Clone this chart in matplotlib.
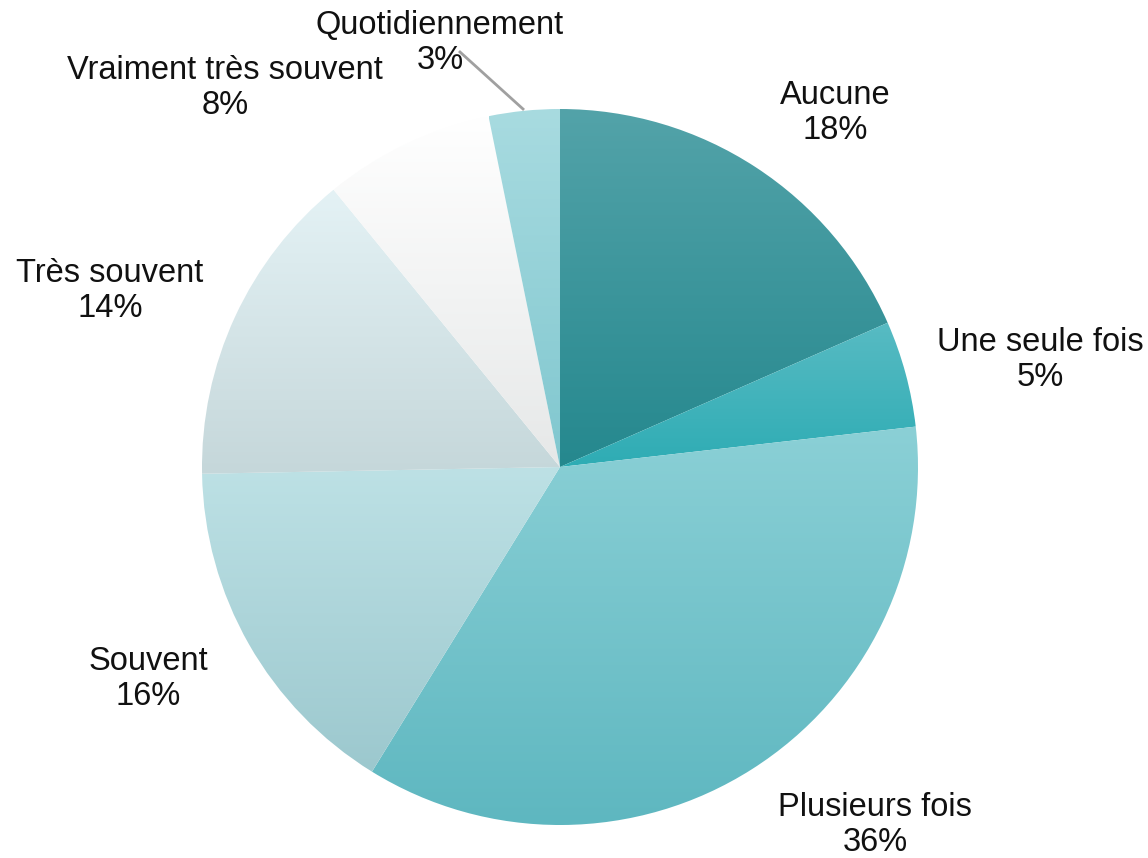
import numpy as np
import matplotlib
matplotlib.use("Agg")
import matplotlib.pyplot as plt
from matplotlib.colors import to_rgb

categories = ["Aucune", "Une seule fois", "Plusieurs fois", "Souvent",
              "Très souvent", "Vraiment très souvent", "Quotidiennement"]
# slice shares
values = [18.4, 4.8, 35.6, 15.9, 14.4, 7.7, 3.2]
# percentages printed on the chart
pct_labels = ["18%", "5%", "36%", "16%", "14%", "8%", "3%"]
top_colors = ["#53a3a9", "#58bbc3", "#8bd0d6", "#bde1e5", "#e4f2f5", "#ffffff", "#a8dbe0"]
bottom_colors = ["#25888e", "#2eacb4", "#5eb7c0", "#9cc8ce", "#c5d7da", "#e6e8e8", "#80c7cf"]

W, H = 1148, 858
fig = plt.figure(figsize=(W / 100, H / 100), dpi=100)
ax = fig.add_axes([0, 0, 1, 1])

cx, cy, R = 560, H - 467, 358
wedges, _ = ax.pie(values, startangle=90, counterclock=False, center=(cx, cy),
                   radius=R, wedgeprops=dict(linewidth=0), frame=True)
ax.set_xlim(0, W)
ax.set_ylim(0, H)
ax.set_aspect("equal")
ax.axis("off")

for w, ct, cb in zip(wedges, top_colors, bottom_colors):
    w.set_facecolor("none")
    t = np.linspace(np.radians(w.theta1), np.radians(w.theta2), 200)
    xs = np.concatenate([[w.center[0]], w.center[0] + w.r * np.cos(t)])
    ys = np.concatenate([[w.center[1]], w.center[1] + w.r * np.sin(t)])
    x0, x1, y0, y1 = xs.min(), xs.max(), ys.min(), ys.max()
    a, b = np.array(to_rgb(ct)), np.array(to_rgb(cb))
    f = np.linspace(0, 1, 256)[:, None]
    grad = (a * (1 - f) + b * f)[:, None, :]
    im = ax.imshow(grad, extent=(x0, x1, y0, y1), origin="upper",
                   aspect="auto", interpolation="bilinear", zorder=1)
    im.set_clip_path(w)

labels_pos = [(835, 113), (1040, 360), (875, 825), (148, 679),
              (110, 291), (225, 88), (440, 43)]
for cat, p, (lx, ly) in zip(categories, pct_labels, labels_pos):
    ax.text(lx, H - ly, f"{cat}\n{p}", ha="center", va="center",
            fontsize=23.5, family="Liberation Sans", color="#111111",
            linespacing=1.2, zorder=5)

ax.plot([460, 523], [H - 52, H - 109], color="#a0a0a0", lw=2, zorder=4)

fig.savefig("out.png", dpi=100)
